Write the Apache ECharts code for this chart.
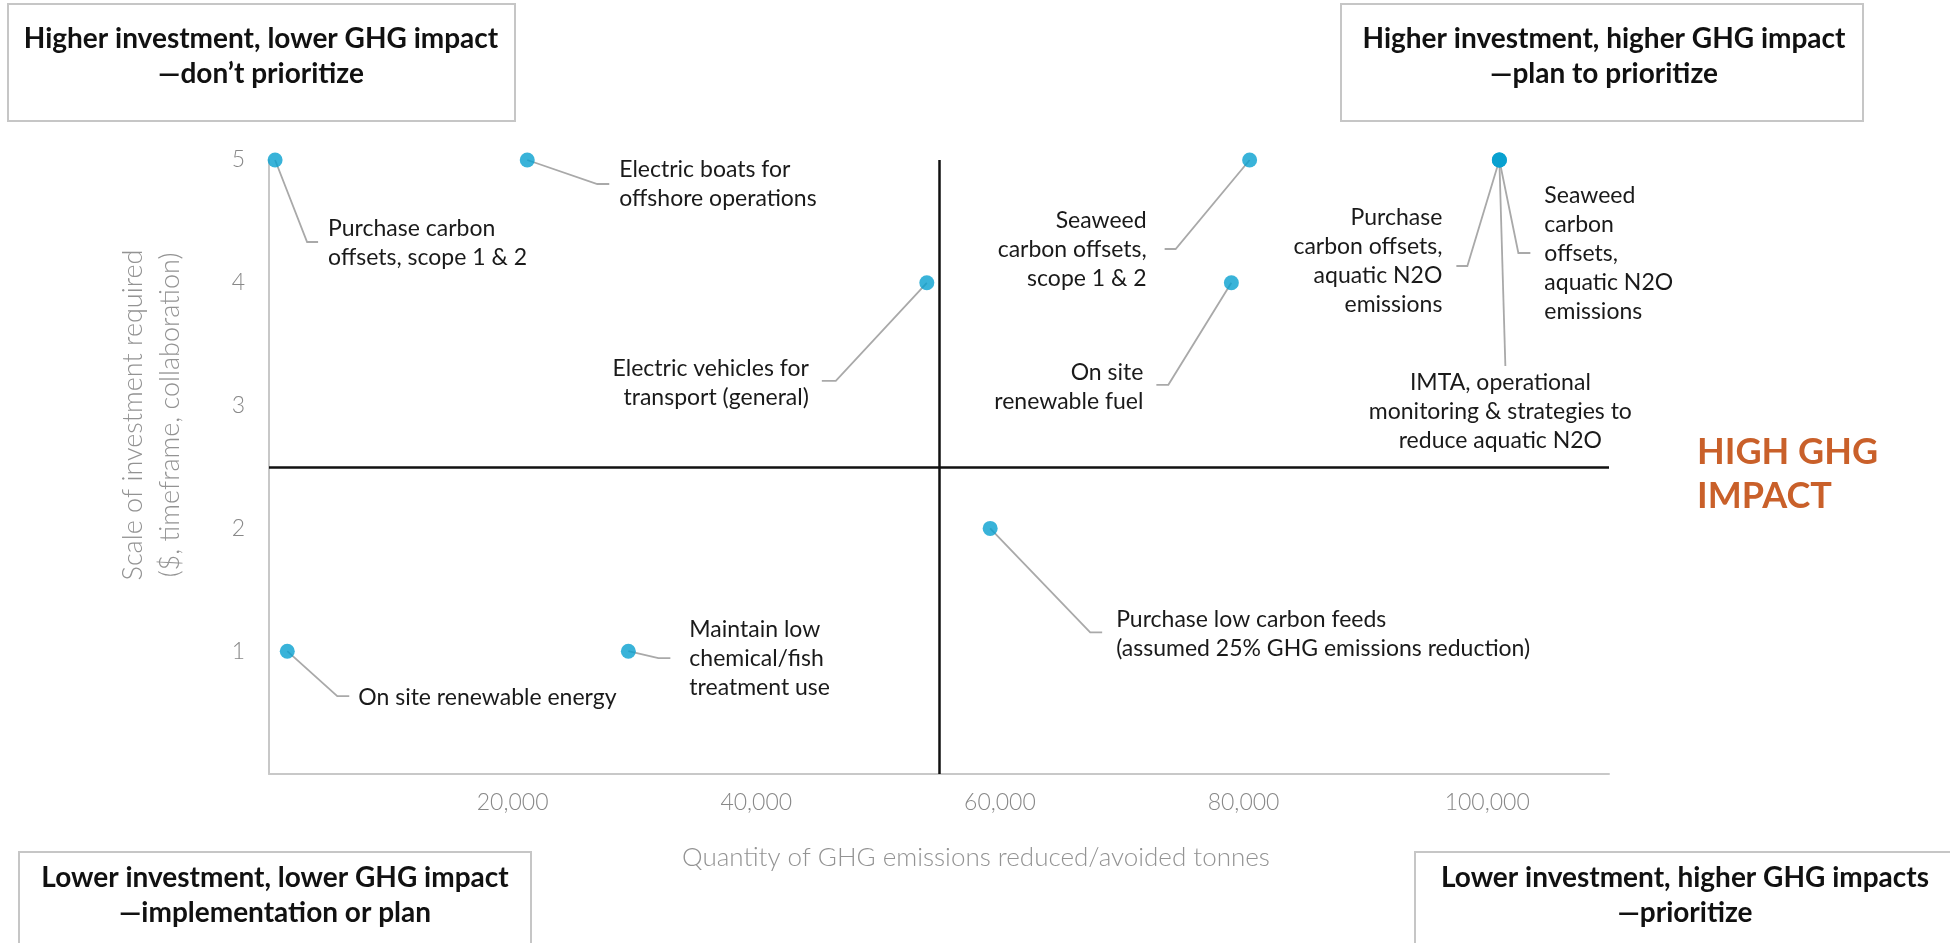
<!DOCTYPE html>
<html>
<head>
<meta charset="utf-8">
<script src="https://cdn.jsdelivr.net/npm/echarts@6/dist/echarts.min.js"></script>
<style>
  html, body { margin: 0; padding: 0; background: #ffffff; }
  #chart { width: 1950px; height: 943px; }
</style>
</head>
<body>
<div id="chart"></div>
<script>
// Mitigation actions: tonnes of GHG reduced/avoided vs. scale of investment (1-5)
const actionNames = [
  'Purchase carbon\noffsets, scope 1 & 2',
  'Electric boats for\noffshore operations',
  'Electric vehicles for\ntransport (general)',
  'Seaweed\ncarbon offsets,\nscope 1 & 2',
  'On site\nrenewable fuel',
  'Purchase\ncarbon offsets,\naquatic N2O\nemissions',
  'Seaweed\ncarbon\noffsets,\naquatic N2O\nemissions',
  'IMTA, operational\nmonitoring & strategies to\nreduce aquatic N2O',
  'Purchase low carbon feeds\n(assumed 25% GHG emissions reduction)',
  'On site renewable energy',
  'Maintain low\nchemical/fish\ntreatment use'
];
const ghgReduced = [500, 21200, 54000, 80500, 79000, 101000, 101000, 101000, 59200, 1500, 29500];
const investmentScale = [5, 5, 4, 5, 4, 5, 5, 5, 2, 1, 1];

// Quadrant split values
const impactSplit = 55000;
const investmentSplit = 2.5;

// Quadrant captions
const quadrantTitles = {
  topLeft: 'Higher investment, lower GHG impact\n\u2014don\u2019t prioritize',
  topRight: 'Higher investment, higher GHG impact\n\u2014plan to prioritize',
  bottomLeft: 'Lower investment, lower GHG impact\n\u2014implementation or plan',
  bottomRight: 'Lower investment, higher GHG impacts\n\u2014prioritize'
};
const highImpactLabel = 'HIGH GHG\nIMPACT';
const xTitle = 'Quantity of GHG emissions reduced/avoided tonnes';
const yTitle = 'Scale of investment required\n($, timeframe, collaboration)';

// Callout placement (pixel offsets from each dot): elbow, end of the short flat run, text anchor
const callouts = [
  { bend: [32, 82],   end: [43, 82],    text: [53, 83],    align: 'left' },
  { bend: [70, 24],   end: [82, 24],    text: [92, 24],    align: 'left' },
  { bend: [-91, 98],  end: [-105, 98],  text: [-118, 100], align: 'right' },
  { bend: [-74, 89],  end: [-85, 89],   text: [-103, 90],  align: 'right' },
  { bend: [-63, 102], end: [-75, 102],  text: [-88, 104],  align: 'right' },
  { bend: [-32, 106], end: [-43, 106],  text: [-57, 101],  align: 'right' },
  { bend: [19, 93],   end: [31, 93],    text: [45, 94],    align: 'left' },
  { bend: null,       end: [6, 206],    text: [1, 252],    align: 'center' },
  { bend: [100, 104], end: [112, 104],  text: [126, 106],  align: 'left' },
  { bend: [50, 45],   end: [62, 45],    text: [71, 46],    align: 'left' },
  { bend: [30, 7],    end: [42, 7],     text: [61, 7],     align: 'left' }
];

const FONT = 'Lato, "Open Sans", sans-serif';
const points = ghgReduced.map((x, i) => [x, investmentScale[i]]);

function captionBox(x, y, w, h, text, textX, textY) {
  return [
    { type: 'rect', shape: { x: x, y: y, width: w, height: h },
      style: { fill: '#ffffff', stroke: '#c6c6c6', lineWidth: 2 }, z: 10 },
    { type: 'text', x: textX, y: textY, z: 11,
      style: { text: text, align: 'center', verticalAlign: 'middle',
               fontFamily: FONT, fontWeight: 'bold', fontSize: 28, lineHeight: 35, fill: '#111111' } }
  ];
}

const chart = echarts.init(document.getElementById('chart'), null, { renderer: 'canvas' });

chart.setOption({
  backgroundColor: '#ffffff',
  animation: false,
  grid: { left: 269, right: 341, top: 160, bottom: 169, outerBoundsMode: 'none' },
  xAxis: {
    type: 'value', min: 0, max: 110000, interval: 20000,
    axisLine: { show: true, lineStyle: { color: '#c8c8c8', width: 2 } },
    axisTick: { show: false },
    splitLine: { show: false },
    axisLabel: {
      showMinLabel: false, showMaxLabel: false, margin: 17,
      color: '#888888', fontSize: 23, fontFamily: FONT, fontWeight: 300,
      formatter: v => v.toLocaleString('en-US')
    }
  },
  yAxis: {
    type: 'value', min: 0, max: 5, interval: 1,
    axisLine: { show: true, lineStyle: { color: '#c8c8c8', width: 2 } },
    axisTick: { show: false },
    splitLine: { show: false },
    axisLabel: {
      showMinLabel: false, margin: 24,
      color: '#888888', fontSize: 23, fontFamily: FONT, fontWeight: 300
    }
  },
  graphic: [
    ...captionBox(8, 4, 507, 117, quadrantTitles.topLeft, 261, 56),
    ...captionBox(1341, 4, 522, 117, quadrantTitles.topRight, 1604, 56),
    ...captionBox(19, 852, 512, 120, quadrantTitles.bottomLeft, 275, 895),
    ...captionBox(1415, 852, 560, 120, quadrantTitles.bottomRight, 1685, 895),
    { type: 'text', x: 1697, y: 474, z: 10,
      style: { text: highImpactLabel, align: 'left', verticalAlign: 'middle',
               fontFamily: FONT, fontWeight: 'bold', fontSize: 36, lineHeight: 44, fill: '#c9602a' } },
    { type: 'text', x: 976, y: 858, z: 10,
      style: { text: xTitle, align: 'center', verticalAlign: 'middle',
               fontFamily: FONT, fontWeight: 300, fontSize: 26, fill: '#939393' } },
    { type: 'text', x: 152, y: 415, rotation: Math.PI / 2, z: 10,
      style: { text: yTitle, align: 'center', verticalAlign: 'middle',
               fontFamily: FONT, fontWeight: 300, fontSize: 27, lineHeight: 37, fill: '#939393' } }
  ],
  series: [
    {
      type: 'custom',
      z: 2,
      clip: false,
      data: points,
      encode: { x: 0, y: 1 },
      renderItem: function (params, api) {
        const c = api.coord([api.value(0), api.value(1)]);
        const L = callouts[params.dataIndex];
        const pts = [[c[0], c[1]]];
        if (L.bend) pts.push([c[0] + L.bend[0], c[1] + L.bend[1]]);
        pts.push([c[0] + L.end[0], c[1] + L.end[1]]);
        return {
          type: 'group',
          children: [
            { type: 'polyline', shape: { points: pts },
              style: { stroke: '#a9a9a9', lineWidth: 1.8, fill: null } },
            { type: 'text', x: c[0] + L.text[0], y: c[1] + L.text[1],
              style: { text: actionNames[params.dataIndex], align: L.align, verticalAlign: 'middle',
                       fontFamily: FONT, fontSize: 23, lineHeight: 29, fill: '#1a1a1a' } }
          ]
        };
      }
    },
    {
      type: 'scatter',
      z: 4,
      symbol: 'circle',
      symbolSize: 15,
      itemStyle: { color: '#08a0cf' },
      data: points,
      markLine: {
        silent: true,
        symbol: ['none', 'none'],
        label: { show: false },
        lineStyle: { color: '#111111', width: 2.5, type: 'solid' },
        data: [
          { xAxis: impactSplit },
          { yAxis: investmentSplit }
        ]
      }
    }
  ]
});
</script>
</body>
</html>
